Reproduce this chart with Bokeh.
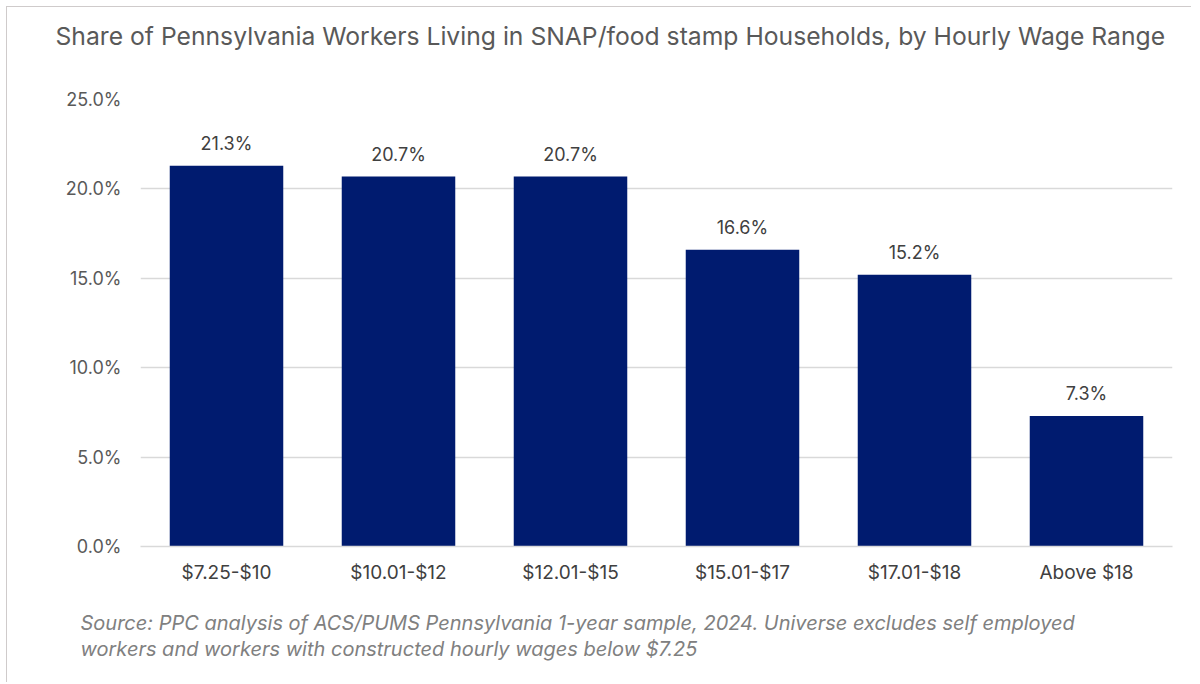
from bokeh.plotting import figure
from bokeh.models import ColumnDataSource, FixedTicker, Range1d, LabelSet, CustomJSTickFormatter, Title
from bokeh.core.properties import value
from bokeh.embed import file_html
from bokeh.resources import INLINE

categories = ["$7.25-$10", "$10.01-$12", "$12.01-$15", "$15.01-$17", "$17.01-$18", "Above $18"]
values = [21.3, 20.7, 20.7, 16.6, 15.2, 7.3]
labels = [f"{v:.1f}%" for v in values]
yticks = [0, 5, 10, 15, 20, 25]

title_text = "Share of Pennsylvania Workers Living in SNAP/food stamp Households, by Hourly Wage Range"
source_text = ("Source: PPC analysis of ACS/PUMS Pennsylvania 1-year sample, 2024. Universe excludes self employed\n"
               "workers and workers with constructed hourly wages below $7.25")

FONT = "Inter"
src = ColumnDataSource(dict(cat=categories, val=values, lab=labels))

p = figure(x_range=categories, y_range=Range1d(0, 25), width=1185, height=676,
           output_backend="svg", toolbar_location=None,
           min_border_left=133, min_border_right=20, min_border_top=92, min_border_bottom=136)
p.styles = {"margin-left": "6px", "margin-top": "6px",
            "border-left": "1px solid #cfcbcb", "border-top": "1px solid #cfcbcb"}
p.vbar(x="cat", top="val", width=0.66, source=src, color="#001B6F", line_color=None)

p.add_layout(LabelSet(x="cat", y="val", text="lab", source=src, text_align="center",
                      text_baseline="middle", y_offset=22, text_font=value(FONT),
                      text_font_size="18px", text_color="#404040"))

p.title.text = title_text + "\n"
p.title.align = "left"
p.title.vertical_align = "bottom"
p.title.text_font = FONT
p.title.text_font_style = "normal"
p.title.text_font_size = "24.7px"
p.title.text_line_height = 1.45
p.title.text_color = "#595959"
p.title.standoff = 10
p.title.offset = -85

p.xgrid.grid_line_color = None
p.ygrid.grid_line_color = "#d9d9d9"
p.ygrid.grid_line_width = 1.5
p.yaxis.ticker = FixedTicker(ticks=yticks)
p.yaxis.formatter = CustomJSTickFormatter(code="return tick.toFixed(1) + '%';")
p.yaxis.axis_line_color = None
p.yaxis.major_tick_line_color = None
p.yaxis.minor_tick_line_color = None
p.yaxis.major_tick_out = 0
p.yaxis.major_tick_in = 0
p.yaxis.major_label_standoff = 19
p.yaxis.major_label_text_font = FONT
p.yaxis.major_label_text_font_size = "18px"
p.yaxis.major_label_text_color = "#595959"

p.xaxis.axis_line_color = "#d9d9d9"
p.xaxis.axis_line_width = 1.5
p.xaxis.major_tick_line_color = None
p.xaxis.minor_tick_line_color = None
p.xaxis.major_tick_out = 0
p.xaxis.major_tick_in = 0
p.xaxis.major_label_standoff = 14
p.xaxis.major_label_text_font = FONT
p.xaxis.major_label_text_font_size = "19px"
p.xaxis.major_label_text_color = "#404040"
p.outline_line_color = None
p.x_range.range_padding = 0

t = Title(text=source_text, align="left", offset=-60, text_font=FONT, text_font_style="italic",
          text_font_size="20px", text_color="#808080", standoff=45, text_line_height=1.1)
p.add_layout(t, "below")

open("out.html", "w").write(file_html(p, INLINE))
